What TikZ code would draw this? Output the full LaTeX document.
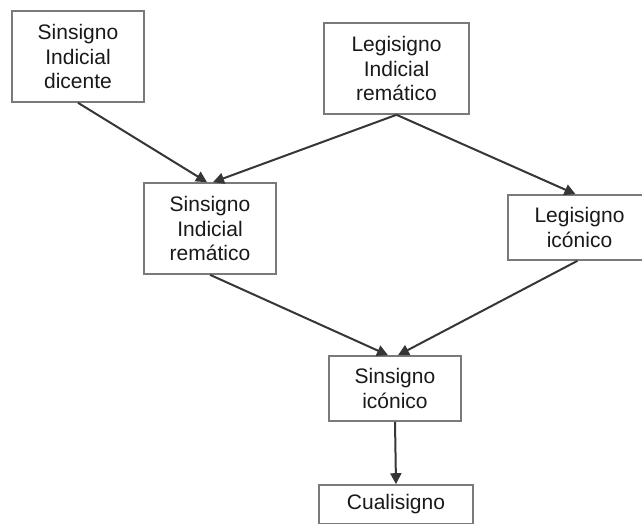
\documentclass[tikz,border=0pt]{standalone}
\usepackage{fontspec}
\setmainfont{Liberation Sans}
\usetikzlibrary{arrows.meta}
\definecolor{boxline}{HTML}{7A7A7A}
\definecolor{arrowline}{HTML}{363636}
\tikzset{
  signbox/.style={draw=boxline, line width=1.6pt, fill=white, align=center,
    inner sep=0pt, font=\fontsize{21}{24.5}\selectfont, text=black!90},
  link/.style={draw=arrowline, line width=2pt,
    -{Triangle[length=11pt,width=11pt]}}
}
\begin{document}
\begin{tikzpicture}[x=1pt,y=-1pt]
  \useasboundingbox (0,0) rectangle (642,524);
  \clip (0,0) rectangle (642,524);

  % sign classes
  \node[signbox, minimum width=132pt, minimum height=91pt] (sid) at (78,56.5)
    {Sinsigno\\Indicial\\dicente};
  \node[signbox, minimum width=145pt, minimum height=91pt] (lir) at (396.5,68.5)
    {Legisigno\\Indicial\\remático};
  \node[signbox, minimum width=132pt, minimum height=91pt] (sir) at (210,228.5)
    {Sinsigno\\Indicial\\remático};
  \node[signbox, minimum width=143pt, minimum height=65pt] (lic) at (579.5,227.5)
    {Legisigno\\icónico};
  \node[signbox, minimum width=132pt, minimum height=65pt] (sic) at (395,388.5)
    {Sinsigno\\icónico};
  \node[signbox, minimum width=154pt, minimum height=39pt] (cua) at (396,504.5)
    {Cualisigno};

  % involvement arrows
  \draw[link] (sid.south) -- ([xshift=-3pt]sir.north);
  \draw[link] (lir.south) -- ([xshift=3pt]sir.north);
  \draw[link] (lir.south) -- ([xshift=-4pt]lic.north);
  \draw[link] (sir.south) -- ([xshift=-7pt]sic.north);
  \draw[link] ([xshift=-2pt]lic.south) -- ([xshift=3pt]sic.north);
  \draw[link] (sic.south) -- (cua.north);
\end{tikzpicture}
\end{document}
